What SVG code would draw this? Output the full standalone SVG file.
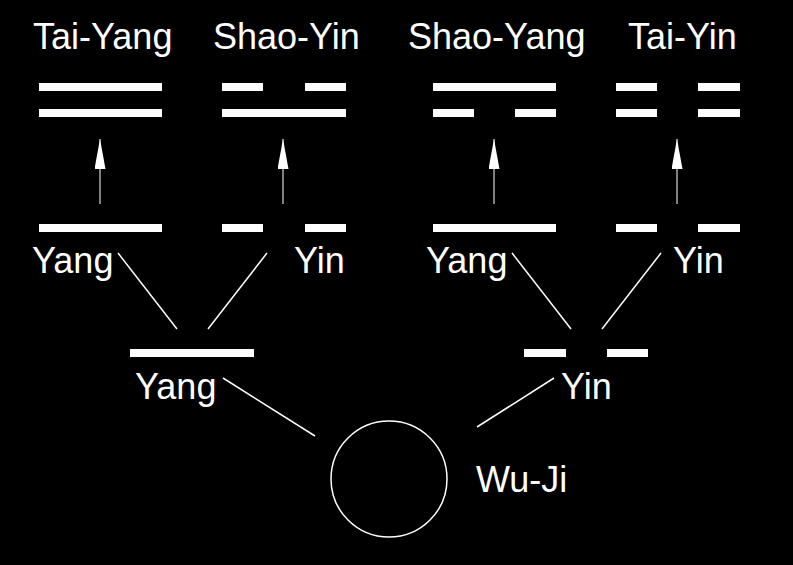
<svg xmlns="http://www.w3.org/2000/svg" width="793" height="565" viewBox="0 0 793 565">
<defs>
<style>
text{font-family:"Liberation Sans",Arial,sans-serif;font-size:36px;fill:#fff}
.bar{fill:#fff}
.ln{stroke:#fff;stroke-width:1.5;fill:none}
.ar{stroke:#fff;stroke-width:1;fill:none}
</style>
<marker id="ah" viewBox="0 0 30 11" refX="30" refY="5.5" markerWidth="30" markerHeight="11" markerUnits="userSpaceOnUse" orient="auto">
<path d="M0,0 L30,5.5 L0,11 Z" fill="#fff"/>
</marker>
</defs>
<rect width="793" height="565" fill="#000"/>

<g id="tai-yang">
<text x="33" y="49">Tai-Yang</text>
<rect class="bar" x="39" y="83" width="123" height="8"/>
<rect class="bar" x="39" y="109" width="123" height="8"/>
</g>
<g id="shao-yin">
<text x="213" y="49">Shao-Yin</text>
<rect class="bar" x="222" y="83" width="41" height="8"/>
<rect class="bar" x="305" y="83" width="41" height="8"/>
<rect class="bar" x="222" y="109" width="124" height="8"/>
</g>
<g id="shao-yang">
<text x="408" y="49">Shao-Yang</text>
<rect class="bar" x="433" y="83" width="123" height="8"/>
<rect class="bar" x="433" y="109" width="41" height="8"/>
<rect class="bar" x="515" y="109" width="41" height="8"/>
</g>
<g id="tai-yin">
<text x="628" y="49">Tai-Yin</text>
<rect class="bar" x="616" y="83" width="41" height="8"/>
<rect class="bar" x="698" y="83" width="42" height="8"/>
<rect class="bar" x="616" y="109" width="41" height="8"/>
<rect class="bar" x="698" y="109" width="42" height="8"/>
</g>

<g id="yang-yang">
<rect class="bar" x="39" y="224" width="123" height="8"/>
<text x="32" y="273">Yang</text>
</g>
<g id="yang-yin">
<rect class="bar" x="222" y="224" width="41" height="8"/>
<rect class="bar" x="305" y="224" width="41" height="8"/>
<text x="294" y="273">Yin</text>
</g>
<g id="yin-yang">
<rect class="bar" x="433" y="224" width="123" height="8"/>
<text x="426" y="273">Yang</text>
</g>
<g id="yin-yin">
<rect class="bar" x="616" y="224" width="41" height="8"/>
<rect class="bar" x="698" y="224" width="42" height="8"/>
<text x="673" y="273">Yin</text>
</g>

<g id="yang">
<rect class="bar" x="130" y="349" width="124" height="8"/>
<text x="135" y="399">Yang</text>
</g>
<g id="yin">
<rect class="bar" x="524" y="349" width="42" height="8"/>
<rect class="bar" x="607" y="349" width="41" height="8"/>
<text x="561" y="399">Yin</text>
</g>

<g id="wu-ji">
<circle cx="389" cy="479" r="58" fill="none" stroke="#fff" stroke-width="1.5"/>
<text x="476" y="492">Wu-Ji</text>
</g>

<g id="connectors">
<line class="ar" x1="100" y1="204" x2="100" y2="139" marker-end="url(#ah)"/>
<line class="ar" x1="283" y1="204" x2="283" y2="139" marker-end="url(#ah)"/>
<line class="ar" x1="494" y1="204" x2="494" y2="139" marker-end="url(#ah)"/>
<line class="ar" x1="677" y1="204" x2="677" y2="139" marker-end="url(#ah)"/>
<line class="ln" x1="118" y1="253" x2="177" y2="329"/>
<line class="ln" x1="267" y1="253" x2="208" y2="329"/>
<line class="ln" x1="512" y1="253" x2="571" y2="329"/>
<line class="ln" x1="661" y1="253" x2="602" y2="329"/>
<line class="ln" x1="223" y1="378" x2="315" y2="436"/>
<line class="ln" x1="554" y1="378" x2="477" y2="427"/>
</g>
</svg>
